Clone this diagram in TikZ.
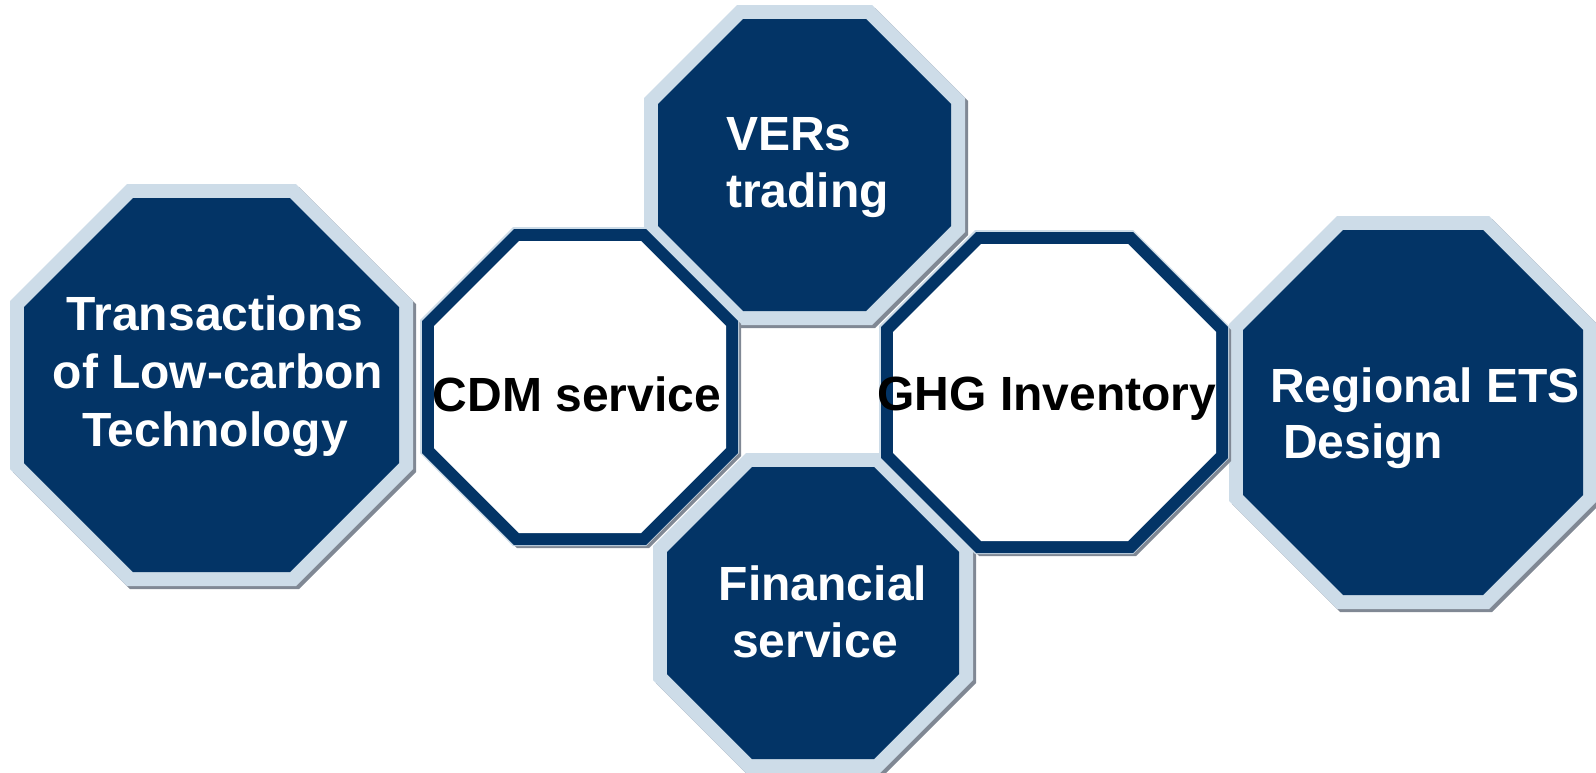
\documentclass[tikz,border=0pt]{standalone}
\usepackage{fontspec}
\setmainfont{Liberation Sans}
\definecolor{navy}{RGB}{3,52,102}
\definecolor{rimblue}{RGB}{205,220,232}
\definecolor{shadegrey}{RGB}{128,136,148}
\tikzset{
  navyfill/.style={fill=navy},
  rimfill/.style={fill=rimblue},
  shadowfill/.style={fill=shadegrey},
  whitefill/.style={fill=white},
  lbl/.style={inner sep=0pt, font=\fontsize{48}{57}\selectfont\bfseries},
  wlbl/.style={lbl, text=white},
  blbl/.style={lbl, text=black}
}
% octagon with bounding box (x0,y0)-(x1,y1) and 45-degree corner cut c
\newcommand{\myoct}[6]{\path[#1] ({(#2)+(#6)},{#3}) -- ({(#4)-(#6)},{#3}) -- ({#4},{(#3)+(#6)}) -- ({#4},{(#5)-(#6)}) -- ({(#4)-(#6)},{#5}) -- ({(#2)+(#6)},{#5}) -- ({#2},{(#5)-(#6)}) -- ({#2},{(#3)+(#6)}) -- cycle;}
% dark octagon: navy face (inner box), light rim, grey shadow
\newcommand{\darkoct}[5]{%
  \myoct{shadowfill}{(#1)-11}{(#2)-11}{(#3)+17}{(#4)+17}{(#5)+8}
  \myoct{rimfill}{(#1)-14}{(#2)-14}{(#3)+14}{(#4)+14}{(#5)+8}
  \myoct{navyfill}{#1}{#2}{#3}{#4}{#5}}
% white octagon: navy frame (outer box), thin rim, grey shadow
\newcommand{\whiteoct}[5]{%
  \myoct{shadowfill}{(#1)+3}{(#2)+3}{(#3)+3}{(#4)+3}{#5}
  \myoct{rimfill}{(#1)-2}{(#2)-2}{(#3)+1}{(#4)+1}{(#5)+1}
  \myoct{navyfill}{#1}{#2}{#3}{#4}{#5}
  \myoct{whitefill}{(#1)+12}{(#2)+12}{(#3)-12}{(#4)-12}{(#5)-7}}
\begin{document}
\begin{tikzpicture}[x=1pt,y=-1pt]
\useasboundingbox (0,0) rectangle (1596,772);
\fill[white] (0,0) rectangle (1596,772);

% dark octagons
\darkoct{24}{198}{399}{572}{109}
\darkoct{658}{19}{951}{311}{85}
\darkoct{667}{467}{959}{759}{85}
\darkoct{1243}{230}{1583}{595}{100}

% white octagons
\whiteoct{422}{229}{738}{545}{92}
\whiteoct{881}{232}{1228}{553}{95}

% texts
\node[wlbl, anchor=base] (t1a) at (215,330) {Transactions};
\node[wlbl, anchor=base] (t1b) at (218,388) {of Low-carbon};
\node[wlbl, anchor=base] (t1c) at (215,446) {Technology};

\node[blbl, anchor=base] (t2) at (577,411) {CDM service};

\node[wlbl, anchor=base west] (t3a) at (726,150) {VERs};
\node[wlbl, anchor=base west] (t3b) at (726,207) {trading};

\node[blbl, anchor=base] (t4) at (1047,410) {GHG Inventory};

\node[wlbl, anchor=base] (t5a) at (823,600) {Financial};
\node[wlbl, anchor=base] (t5b) at (815,657) {service};

\node[wlbl, anchor=base west] (t6a) at (1270,402) {Regional ETS};
\node[wlbl, anchor=base west] (t6b) at (1283,458) {Design};
\end{tikzpicture}
\end{document}
